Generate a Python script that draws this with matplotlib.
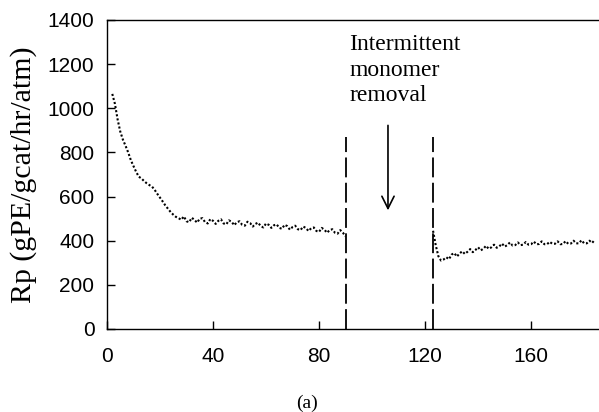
import numpy as np
import matplotlib.pyplot as plt

# Polymerization rate before monomer removal
t1 = np.arange(2, 91)
rp1 = [1065, 1020, 950, 895, 858, 830, 800, 765, 738, 712,
       690, 682, 670, 660, 652, 645, 630, 612, 595, 578,
       560, 545, 530, 518, 508, 502,
       495, 510, 488, 484, 504, 494, 482, 500, 502, 484,
       478, 498, 490, 476, 490, 497, 478, 474, 492, 486,
       470, 484, 488, 472, 468, 486, 480, 464, 476, 482,
       466, 460, 478, 472, 458, 470, 474, 458, 454, 472,
       466, 450, 462, 468, 452, 448, 464, 458, 444, 456,
       460, 444, 440, 458, 450, 436, 448, 452, 436, 432,
       448, 436, 420]

# Polymerization rate after monomer removal
t2 = np.arange(123, 185)
rp2 = [445, 380, 330, 310, 315, 325, 316, 337, 344, 328,
       342, 352, 340, 350, 362, 348, 358, 370, 356, 364,
       377, 363, 370, 382, 368, 374, 387, 373, 380, 392,
       378, 380, 392, 380, 382, 394, 382, 384, 396, 384,
       385, 397, 384, 384, 395, 386, 386, 397, 384, 385,
       398, 386, 387, 400, 388, 388, 402, 388, 388, 400,
       390, 404]

removal_start = 90
removal_end = 123
xticks = [0, 40, 80, 120, 160]
yticks = [0, 200, 400, 600, 800, 1000, 1200, 1400]

fig = plt.figure(figsize=(5.99, 4.12), dpi=100)
ax = fig.add_axes([0.1786, 0.2015, 0.8214, 0.75])

ax.plot(t1, rp1, color='black', lw=1.5, linestyle=(0, (1, 1)))
ax.plot(t2, rp2, color='black', lw=1.5, linestyle=(0, (1, 1)))

for xv in (removal_start, removal_end):
    ax.plot([xv, xv], [0, 870], color='black', lw=1.3, dashes=(11, 3))

ax.annotate('', xy=(106, 525), xytext=(106, 935),
            arrowprops=dict(arrowstyle='->', lw=1.2, color='black',
                            mutation_scale=22))
ax.text(91.5, 1335, 'Intermittent\nmonomer\nremoval', family='Liberation Serif',
        fontsize=17, va='top', ha='left', linespacing=1.28)

ax.set_xlim(0, 185.6)
ax.set_ylim(0, 1400)
ax.set_xticks(xticks)
ax.set_yticks(yticks)
ax.tick_params(direction='in', length=6, width=1, labelsize=15)
ax.tick_params(axis='y', pad=9)
ax.tick_params(axis='x', pad=13)
for lab in ax.get_xticklabels() + ax.get_yticklabels():
    lab.set_family('Liberation Sans')
ax.spines['right'].set_visible(False)
for s in ('left', 'top', 'bottom'):
    ax.spines[s].set_linewidth(1.0)

fig.text(24 / 599, 0.576, 'Rp (gPE/gcat/hr/atm)', rotation=90, ha='center',
         va='center', family='Liberation Serif', fontsize=21.5)
fig.text(307 / 599, 1 - 403 / 412, '(a)', ha='center', va='center',
         family='Liberation Serif', fontsize=14)

fig.savefig('out.png', dpi=100)
